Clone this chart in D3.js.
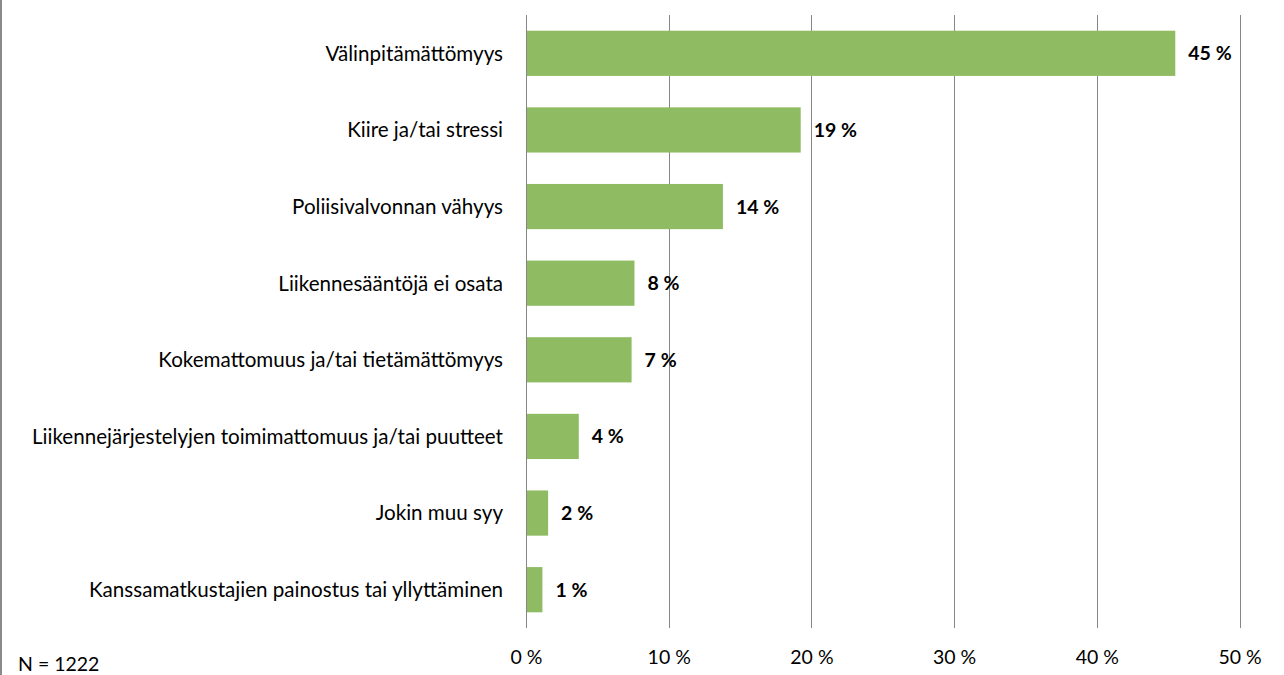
<!DOCTYPE html>
<html>
<head>
<meta charset="utf-8">
<script src="https://cdn.jsdelivr.net/npm/d3@7"></script>
<style>
  html, body { margin: 0; padding: 0; background: #fff; }
  svg { display: block; }
  text { font-family: Lato, "Open Sans", sans-serif; fill: #000; }
</style>
</head>
<body>
<svg id="chart" width="1284" height="675"></svg>
<script>
const categories = [
  "Välinpitämättömyys",
  "Kiire ja/tai stressi",
  "Poliisivalvonnan vähyys",
  "Liikennesääntöjä ei osata",
  "Kokemattomuus ja/tai tietämättömyys",
  "Liikennejärjestelyjen toimimattomuus ja/tai puutteet",
  "Jokin muu syy",
  "Kanssamatkustajien painostus tai yllyttäminen"
];
const values = [45.5, 19.25, 13.8, 7.6, 7.4, 3.7, 1.55, 1.15];
const valueLabels = ["45 %", "19 %", "14 %", "8 %", "7 %", "4 %", "2 %", "1 %"];
const tickValues = [0, 10, 20, 30, 40, 50];
const tickLabels = ["0 %", "10 %", "20 %", "30 %", "40 %", "50 %"];
const note = "N = 1222";

const svg = d3.select("#chart");
const plot = { left: 526, right: 1239.5, top: 15, bottom: 628 };

const x = d3.scaleLinear().domain([0, 50]).range([plot.left, plot.right]);
const y = d3.scaleBand().domain(categories).range([plot.top, plot.bottom])
  .paddingInner(0.41).paddingOuter(0.205);

// left frame border
svg.append("rect").attr("x", 0).attr("y", 0).attr("width", 2).attr("height", 675).attr("fill", "#8a8a8a");

// gridlines
svg.append("g").selectAll("line").data(tickValues).join("line")
  .attr("x1", d => Math.round(x(d)) + 0.5).attr("x2", d => Math.round(x(d)) + 0.5)
  .attr("y1", plot.top).attr("y2", plot.bottom)
  .attr("stroke", "#868686").attr("stroke-width", 1);

// bars
svg.append("g").selectAll("rect").data(values).join("rect")
  .attr("x", x(0) + 1)
  .attr("y", (d, i) => y(categories[i]))
  .attr("width", d => x(d) - x(0) - 1)
  .attr("height", y.bandwidth())
  .attr("fill", "#8fbc62");

// value labels
svg.append("g").selectAll("text").data(values).join("text")
  .attr("x", d => x(d) + 13)
  .attr("y", (d, i) => y(categories[i]) + y.bandwidth() / 2)
  .attr("dy", "0.36em")
  .attr("font-size", 19.5)
  .attr("font-weight", "bold")
  .text((d, i) => valueLabels[i]);

// category axis labels
const yAxis = d3.axisLeft(y).tickSize(0).tickPadding(23);
const gy = svg.append("g").attr("transform", `translate(${plot.left},0)`).call(yAxis);
gy.select(".domain").remove();
gy.selectAll("text").attr("font-size", 20.6).attr("fill", "#111")
  .style("font-family", "Lato, 'Open Sans', sans-serif").attr("dy", "0.36em");

// x axis tick labels
const xAxis = d3.axisBottom(x).tickValues(tickValues).tickSize(0).tickPadding(0)
  .tickFormat((d, i) => tickLabels[i]);
const gx = svg.append("g").attr("transform", `translate(0,${plot.bottom})`).call(xAxis);
gx.select(".domain").remove();
gx.selectAll("text").attr("font-size", 19.5).attr("fill", "#111")
  .style("font-family", "Lato, 'Open Sans', sans-serif")
  .attr("y", 36).attr("dy", 0);

// note
svg.append("text").attr("x", 18).attr("y", 671).attr("font-size", 19.5).attr("fill", "#111").text(note);
</script>
</body>
</html>
